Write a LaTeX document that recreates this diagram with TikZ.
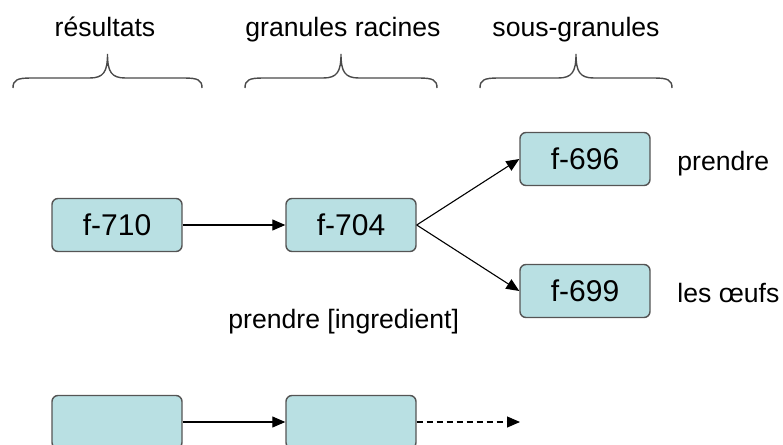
\documentclass[tikz,border=0pt]{standalone}
\usepackage{fontspec}
\setmainfont{Liberation Sans}
\usetikzlibrary{arrows.meta}
\definecolor{boxfill}{HTML}{B9E0E3}
\definecolor{boxedge}{HTML}{555555}
\definecolor{bracegray}{HTML}{4A4A4A}

\begin{document}
\begin{tikzpicture}[
  x=0.5pt, y=-0.5pt,
  granule/.style={draw=boxedge, fill=boxfill, line width=0.7pt, rounded corners=3pt,
    minimum width=65pt, minimum height=26.5pt, inner sep=0pt, font=\fontsize{15}{18}\selectfont},
  link/.style={-{Triangle[length=6.5pt, width=5.5pt]}, line width=0.55pt},
  note/.style={font=\fontsize{13.3}{16}\selectfont, anchor=base, inner sep=0pt},
  brace/.style={bracegray, line width=0.7pt},
]
\useasboundingbox (0,0) rectangle (783,445);
\clip (0,0) rectangle (783,445);

% ===== headers =====
\node[note] (hres) at (105,36) {résultats};
\node[note] (hroot) at (343,36) {granules racines};
\node[note] (hsub) at (576,36) {sous-granules};

% braces under the headers
\foreach \xa/\xb in {13/202, 245/437, 480/672} {
  \pgfmathsetmacro{\xm}{(\xa+\xb)/2}
  \draw[brace] (\xa,88) .. controls (\xa,80) and (\xa+4,78) .. (\xa+18,78)
    -- (\xm-18,78) .. controls (\xm-4,78) and (\xm,72) .. (\xm,54)
    .. controls (\xm,72) and (\xm+4,78) .. (\xm+18,78)
    -- (\xb-18,78) .. controls (\xb-4,78) and (\xb,80) .. (\xb,88);
}

% ===== granules =====
\node[granule] (f710) at (117,225) {f-710};
\node[granule] (f704) at (351,225) {f-704};
\node[granule] (f696) at (585,159) {f-696};
\node[granule] (f699) at (585,291) {f-699};

\node[note, anchor=base west] (nprendre) at (677,170) {prendre};
\node[note, anchor=base west] (noeufs) at (677,302) {les œufs};
\node[note, anchor=base west] (ningr) at (228,328) {prendre [ingredient]};

\draw[link] (f710) -- (f704);
\draw[link] (f704.east) -- (f696.west);
\draw[link] (f704.east) -- (f699.west);

% ===== empty row =====
\node[granule] (g1) at (117,422) {};
\node[granule] (g2) at (351,422) {};
\coordinate (gnext) at (520,422);

\draw[link] (g1) -- (g2);
\draw[link, dash pattern=on 3pt off 2pt] (g2) -- (gnext);

\end{tikzpicture}
\end{document}
